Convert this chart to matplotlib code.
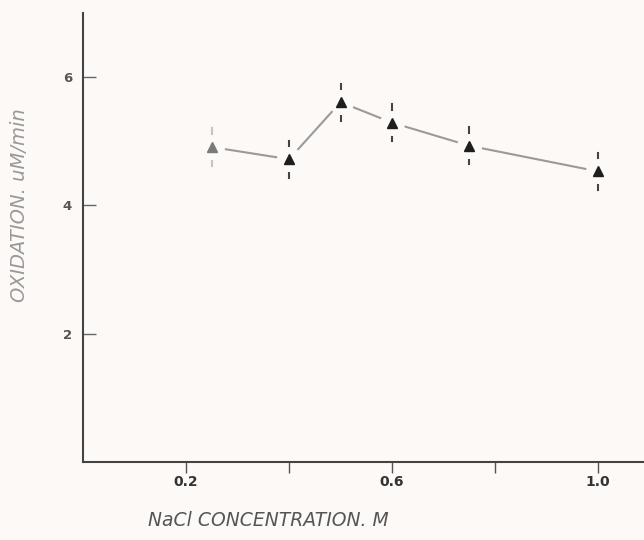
import numpy as np
import matplotlib
matplotlib.use('agg')
import matplotlib.pyplot as plt

# data
nacl = [0.25, 0.4, 0.5, 0.6, 0.75, 1.0]
oxidation = [4.91, 4.72, 5.61, 5.29, 4.93, 4.53]
err = [0.29, 0.29, 0.29, 0.29, 0.29, 0.29]
x_ticks = [0.2, 0.4, 0.6, 0.8, 1.0]
x_ticklabels = ["0.2", "", "0.6", "", "1.0"]
y_ticks = [2, 4, 6]

BG = "#fcf9f7"


def main():
    fig = plt.figure(figsize=(6.44, 5.4), dpi=100, facecolor=BG)
    ax = fig.add_axes([83 / 644, 1 - 462 / 540, 1 - 83 / 644, (462 - 13) / 540])
    ax.set_facecolor(BG)

    # connecting line
    ax.plot(nacl, oxidation, color="#9a9a9a", lw=1.5, zorder=1)

    # error bars (first point fainter)
    for i, (x, y, e) in enumerate(zip(nacl, oxidation, err)):
        c = "#c4c4c4" if i == 0 else "#444444"
        ax.plot([x, x], [y - e, y + e], color=c, lw=1.5, zorder=2)

    # background halo to break line and bars near markers
    ax.plot(nacl, oxidation, ls="none", marker="o", ms=17,
            mfc=BG, mec=BG, zorder=3)

    colors = ["#7a7a7a"] + ["#1e1e1e"] * (len(nacl) - 1)
    for x, y, c in zip(nacl, oxidation, colors):
        ax.plot(x, y, ls="none", marker="^", ms=7, mfc=c, mec=c, zorder=4)

    ax.set_xlim(0, 1.089)
    ax.set_ylim(0, 7)

    for s in ["top", "right"]:
        ax.spines[s].set_visible(False)
    for s in ["left", "bottom"]:
        ax.spines[s].set_color("#444444")
        ax.spines[s].set_linewidth(1.5)

    ax.set_xticks(x_ticks)
    ax.set_xticklabels(x_ticklabels)
    ax.set_yticks(y_ticks)
    ax.tick_params(axis="x", direction="out", length=8, width=1,
                   color="#555555", pad=1, labelsize=10, labelcolor="#333333")
    ax.tick_params(axis="y", direction="in", length=9, width=1,
                   color="#666666", pad=8, labelsize=9.5, labelcolor="#555555")
    for lab in ax.get_xticklabels() + ax.get_yticklabels():
        lab.set_fontweight("semibold")

    fig.text(268 / 644, 1 - 520 / 540, "NaCl CONCENTRATION. M",
             ha="center", va="center", fontsize=13.5, style="italic",
             color="#555555")
    fig.text(20 / 644, 1 - 205 / 540, "OXIDATION. uM/min",
             ha="center", va="center", rotation=90, fontsize=14,
             style="italic", color="#999999")

    fig.savefig("out.png", dpi=100, facecolor=BG)


if __name__ == "__main__":
    main()
